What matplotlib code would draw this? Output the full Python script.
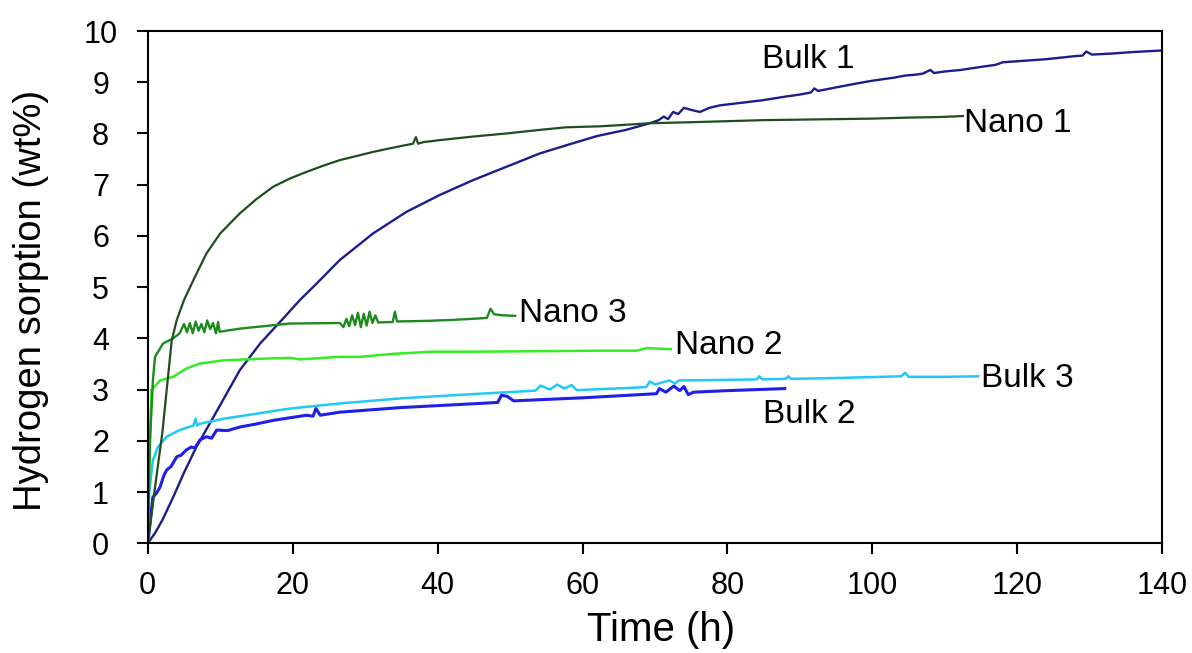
import matplotlib
matplotlib.use("Agg")
import matplotlib.pyplot as plt

plt.rcParams['font.family'] = ['Liberation Sans', 'DejaVu Sans']

# sorption curves, time in h and uptake in wt%
bulk1_t = [0, 1, 2, 3.5, 5, 6.7, 9, 12.7, 15.5, 18.5, 21, 23.3, 26.5, 31.1, 35.7, 40.3,
           44.9, 49.5, 54.1, 58, 62, 66, 69.3, 70.5, 71.2, 71.8, 72.5, 73.2, 74, 75, 76.2,
           77.5, 79, 82, 84.9, 88, 90, 91.5, 92, 92.5, 95, 98, 100, 103, 104.5, 106.1,
           107, 108, 108.5, 110, 112.2, 115, 117, 118, 120, 122, 124, 126, 128, 129,
           129.5, 130.3, 133, 136, 140]
bulk1_v = [0, 0.2, 0.45, 0.9, 1.38, 1.88, 2.45, 3.38, 3.9, 4.36, 4.75, 5.07, 5.53, 6.05,
           6.47, 6.80, 7.09, 7.35, 7.61, 7.78, 7.95, 8.07, 8.2, 8.26, 8.33, 8.28, 8.42,
           8.38, 8.5, 8.46, 8.42, 8.5, 8.55, 8.6, 8.65, 8.72, 8.76, 8.8, 8.88, 8.83, 8.9,
           8.98, 9.03, 9.09, 9.13, 9.15, 9.17, 9.24, 9.18, 9.21, 9.24, 9.3, 9.34, 9.39,
           9.41, 9.43, 9.45, 9.48, 9.51, 9.52, 9.6, 9.54, 9.56, 9.59, 9.62]

nano1_t = [0, 1, 2, 3.3, 4, 5, 6.3, 8.1, 10, 12.7, 15, 17.3, 19.6, 21.9, 24.2, 26.5,
           28.8, 31.1, 33.4, 35.5, 36.6, 37.0, 37.3, 38, 40.3, 44.9, 49.5, 54.1, 57.7,
           62.4, 66, 69.3, 75, 80, 84.9, 90, 95, 100, 105, 109, 112.5]
nano1_v = [0, 1.1, 2.15, 3.96, 4.36, 4.75, 5.14, 5.66, 6.05, 6.44, 6.72, 6.96, 7.12,
           7.25, 7.37, 7.48, 7.56, 7.64, 7.71, 7.77, 7.80, 7.93, 7.80, 7.83, 7.87, 7.94,
           8.0, 8.07, 8.12, 8.14, 8.17, 8.2, 8.22, 8.24, 8.26, 8.27, 8.28, 8.29, 8.31,
           8.32, 8.34]

nano3_t = [0, 0.3, 0.7, 1.0, 2.1, 3.5, 4.4, 5.0, 5.4, 5.8, 6.2, 6.6, 7.0, 7.4, 7.8, 8.2,
           8.6, 9.0, 9.4, 9.7, 9.9, 12.7, 19.6, 26.5, 27.0, 27.4, 27.8, 28.2, 28.6, 29.0,
           29.4, 29.8, 30.2, 30.6, 31.0, 31.4, 31.8, 33.8, 34.1, 34.4, 38, 42, 45.8,
           46.8, 47.3, 47.8, 49, 50.7]
nano3_v = [0, 2.0, 3.18, 3.64, 3.9, 4.0, 4.1, 4.28, 4.12, 4.3, 4.1, 4.33, 4.15, 4.28,
           4.12, 4.35, 4.18, 4.3, 4.1, 4.32, 4.13, 4.19, 4.29, 4.30, 4.22, 4.38, 4.24,
           4.45, 4.26, 4.5, 4.22, 4.48, 4.25, 4.52, 4.3, 4.45, 4.31, 4.32, 4.52, 4.33,
           4.34, 4.36, 4.39, 4.40, 4.58, 4.47, 4.45, 4.44]

nano2_t = [0, 0.2, 0.5, 1.7, 3.5, 5.3, 7.2, 10.4, 15, 19.6, 21, 26.5, 29.3, 34, 39.3,
           45, 54.1, 62.4, 67.5, 68.8, 70.5, 72.2]
nano2_v = [0, 1.5, 2.99, 3.18, 3.25, 3.41, 3.51, 3.57, 3.6, 3.62, 3.59, 3.64, 3.64,
           3.7, 3.74, 3.74, 3.75, 3.76, 3.76, 3.81, 3.80, 3.79]

bulk3_t = [0, 0.2, 0.7, 1.4, 2.6, 4.4, 6.3, 6.6, 6.8, 7.1, 10.4, 15, 19.6, 26.5, 35, 45.8,
           53.5, 54.2, 55.5, 56.5, 57.5, 58.5, 59.2, 61, 66, 68.8, 69.3, 70, 72, 72.8,
           73.3, 74.3, 80, 84, 84.4, 84.8, 88, 88.4, 88.8, 96, 104, 104.5, 105, 110, 114.6]
bulk3_v = [0, 1.0, 1.62, 1.88, 2.08, 2.21, 2.30, 2.43, 2.30, 2.33, 2.43, 2.53, 2.63,
           2.73, 2.83, 2.92, 2.98, 3.08, 3.0, 3.1, 3.02, 3.09, 2.99, 3.0, 3.03, 3.05,
           3.16, 3.1, 3.18, 3.12, 3.18, 3.18, 3.19, 3.2, 3.26, 3.2, 3.21, 3.26, 3.21,
           3.23, 3.26, 3.33, 3.25, 3.25, 3.26]

bulk2_t = [0, 0.7, 1.2, 1.7, 2.2, 2.6, 3.2, 4.0, 4.6, 5.3, 6.0, 6.5, 7.2, 8.1, 8.8, 9.5,
           11, 12.7, 15, 17.3, 21.9, 22.8, 23.2, 23.8, 26.5, 35, 45.8, 48.3, 48.8, 49.6,
           50.5, 60, 70.2, 70.6, 71.5, 72.6, 73.4, 74, 74.6, 75.3, 80, 87.9]
bulk2_v = [0, 0.9, 0.98, 1.1, 1.32, 1.43, 1.5, 1.69, 1.72, 1.82, 1.88, 1.86, 2.02, 2.08,
           2.05, 2.21, 2.2, 2.27, 2.33, 2.4, 2.5, 2.48, 2.63, 2.5, 2.56, 2.65, 2.73, 2.75,
           2.89, 2.87, 2.78, 2.84, 2.92, 3.02, 2.95, 3.07, 2.98, 3.06, 2.9, 2.95, 2.98,
           3.02]

series = [
    ("Bulk 1", bulk1_t, bulk1_v, "#1c1c8c", 1.7),
    ("Bulk 3", bulk3_t, bulk3_v, "#22c8f5", 1.8),
    ("Bulk 2", bulk2_t, bulk2_v, "#1f1fe6", 2.2),
    ("Nano 2", nano2_t, nano2_v, "#33ee22", 1.8),
    ("Nano 3", nano3_t, nano3_v, "#1e8a1e", 1.7),
    ("Nano 1", nano1_t, nano1_v, "#1f4d1f", 1.6),
]

# where each curve name is written
label_pos = {
    "Bulk 1": (91.1, 9.45),
    "Nano 1": (112.6, 8.2),
    "Nano 3": (51.2, 4.48),
    "Nano 2": (72.8, 3.86),
    "Bulk 3": (115.0, 3.22),
    "Bulk 2": (84.9, 2.52),
}

fig = plt.figure(figsize=(11.92, 6.53), dpi=100)
ax = fig.add_axes([0.124, 0.168, 0.851, 0.7845])

for name, t, v, c, w in series:
    ax.plot(t, v, color=c, lw=w)

for name, (x, y) in label_pos.items():
    ha = "center" if name == "Bulk 1" else "left"
    ax.text(x, y, name, fontsize=24, ha=ha, va="center")

ax.set_xlim(0, 140)
ax.set_ylim(0, 10)
ax.set_xticks(range(0, 141, 20))
ax.set_yticks(range(0, 11))
ax.tick_params(axis="both", direction="out", length=8, width=1.5, labelsize=22)
ax.tick_params(axis="x", pad=12)
# y numbers are centred in their column, not right-aligned
ax.tick_params(axis="y", pad=26)
for lbl in ax.get_yticklabels():
    lbl.set_horizontalalignment("center")
for s in ax.spines.values():
    s.set_linewidth(1.5)
ax.set_xlabel("Time (h)", fontsize=29)
ax.set_ylabel("Hydrogen sorption (wt%)", fontsize=27.5)
ax.xaxis.set_label_coords(0.506, -0.133)
ax.yaxis.set_label_coords(-0.097, 0.475)

fig.savefig("out.png", dpi=100)
